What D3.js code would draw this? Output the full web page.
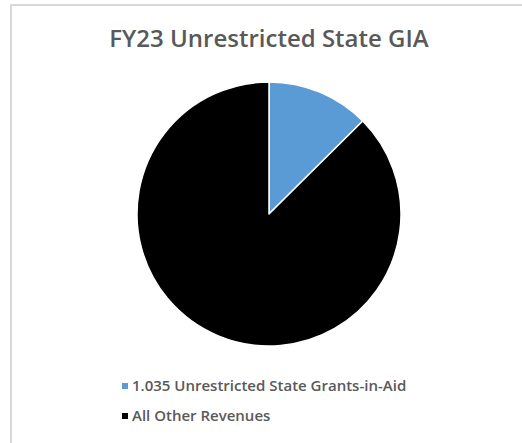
<!DOCTYPE html>
<html>
<head>
<meta charset="utf-8">
<script src="https://cdn.jsdelivr.net/npm/d3@7"></script>
<style>
  html, body { margin: 0; padding: 0; background: #fff; }
  svg { display: block; }
  text { font-family: "Open Sans", sans-serif; }
</style>
</head>
<body>
<svg id="chart" width="522" height="443"></svg>
<script>
const title = 'FY23 Unrestricted State GIA';
const categories = ['1.035 Unrestricted State Grants-in-Aid', 'All Other Revenues'];
const values = [1.035, 7.2];
const colors = ['#5b9bd5', '#000000'];

const center = { x: 269, y: 214 };
const radius = 132;

const svg = d3.select('#chart');

// chart area border
svg.append('path')
    .attr('d', `M11,445 V5 H523`)
    .attr('fill', 'none')
    .attr('stroke', '#d9d9d9')
    .attr('stroke-width', 2);

svg.append('text')
    .attr('x', 269)
    .attr('y', 47)
    .attr('text-anchor', 'middle')
    .attr('font-size', 24)
    .attr('font-weight', 600)
    .attr('fill', '#595959')
    .text(title);

const pie = d3.pie().sort(null).value((d) => d);
const arc = d3.arc().innerRadius(0).outerRadius(radius);

const color = d3.scaleOrdinal().domain(categories).range(colors);

svg.append('g')
    .attr('transform', `translate(${center.x}, ${center.y})`)
    .selectAll('path')
    .data(pie(values))
    .enter()
    .append('path')
    .attr('d', arc)
    .attr('fill', (d, i) => color(categories[i]))
    .attr('stroke', '#fff')
    .attr('stroke-width', 1.5)
    .attr('stroke-linejoin', 'round');

// legend
const legendY = d3.scalePoint().domain(categories).range([386, 416]);

const legend = svg.append('g')
    .selectAll('g')
    .data(categories)
    .enter()
    .append('g')
    .attr('transform', (d) => `translate(122, ${legendY(d)})`);

legend.append('rect')
    .attr('x', 0)
    .attr('y', -3)
    .attr('width', 6)
    .attr('height', 6)
    .attr('fill', (d) => color(d));

legend.append('text')
    .attr('x', 10)
    .attr('y', 5)
    .attr('font-size', 15)
    .attr('font-weight', 600)
    .attr('fill', '#595959')
    .text((d) => d);
</script>
</body>
</html>
